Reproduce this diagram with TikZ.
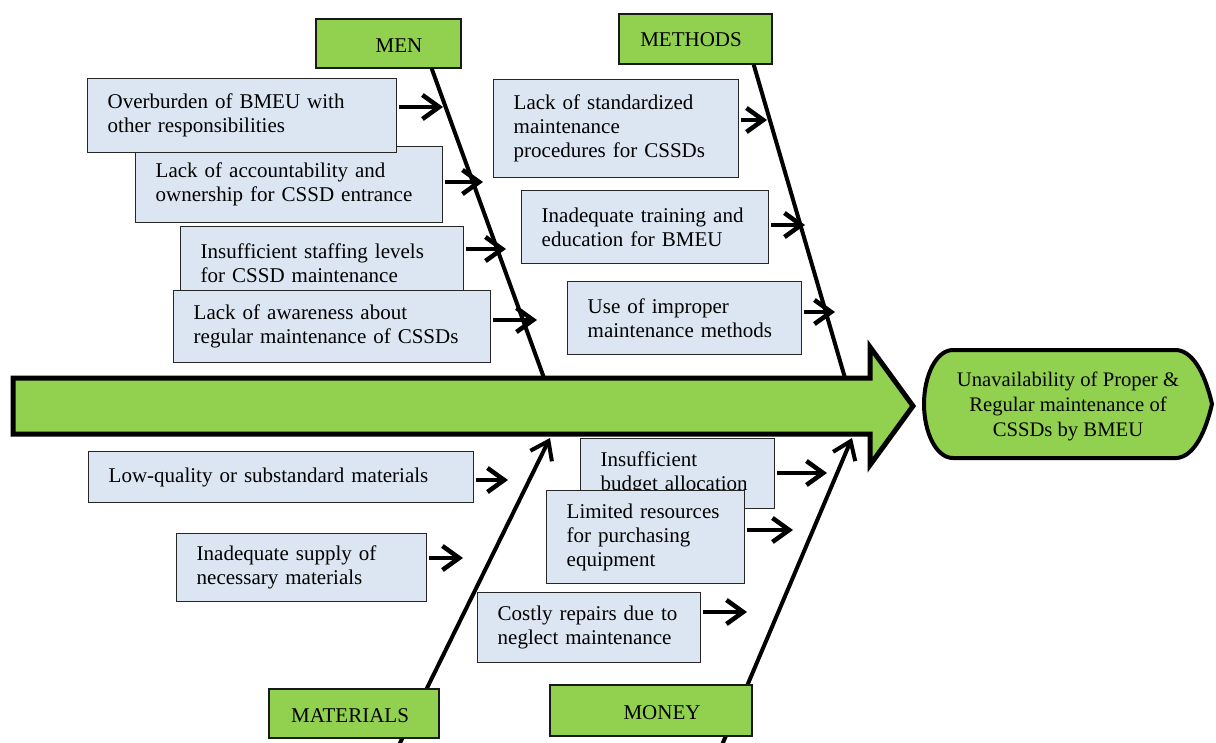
\documentclass[tikz,border=0pt]{standalone}
\usepackage{fontspec}
\setmainfont{Liberation Serif}
\usetikzlibrary{arrows.meta,calc}
\definecolor{fishgreen}{HTML}{92D050}
\definecolor{boxblue}{HTML}{DCE6F2}
\begin{document}
\begin{tikzpicture}[x=0.75pt,y=-0.75pt,
  cause/.style={draw=black!85, line width=1.1pt, fill=boxblue, align=left, anchor=north west,
    inner xsep=15pt, inner ysep=0pt, font=\fontsize{15.75}{18}\selectfont},
  cat/.style={draw=black!90, line width=1.3pt, fill=fishgreen, anchor=north west, inner sep=0pt},
  cattext/.style={font=\fontsize{15.75}{18}\selectfont, inner sep=0pt},
  bone/.style={line width=3pt, line cap=butt},
  tipbarb/.style={-{Straight Barb[length=12.5pt,width=18pt]}},
  arr/.style={line width=3.4pt, tipbarb},
]
\useasboundingbox (0,0) rectangle (1216,742);

% bone end coordinates
\coordinate (menJ) at (544,378);
\coordinate (methJ) at (845,378);
\coordinate (matB) at (399,745);
\coordinate (matJ) at (550,438);
\coordinate (monB) at (722,745);
\coordinate (monJ) at (852,438);

% category boxes
\node[cat, minimum width=108.75pt, minimum height=36.75pt] (men) at (315,18) {};
\node[cat, minimum width=114.75pt, minimum height=37.5pt] (methods) at (618,13) {};

% bones
\draw[bone] ($(men.south east)+(-30,0)$) -- (menJ);
\draw[bone] ($(methods.south east)+(-19,0)$) -- (methJ);
\draw[bone, tipbarb] (matB) -- (matJ);
\draw[bone, tipbarb] (monB) -- (monJ);

\node[cat, minimum width=127.5pt, minimum height=36.75pt] (materials) at (268,688) {};
\node[cat, minimum width=151.5pt, minimum height=38.25pt] (money) at (549,684) {};

\node[cattext] (menT) at (399,46) {MEN};
\node[cattext] (methodsT) at (691,40) {METHODS};
\node[cattext] (materialsT) at (350,716) {MATERIALS};
\node[cattext] (moneyT) at (662,713) {MONEY};

% spine
\draw[line width=3.75pt, fill=fishgreen, line join=miter]
  (13,378) -- (870,378) -- (870,347) -- (913,406) -- (870,465) -- (870,434) -- (13,434) -- cycle;

% effect
\draw[line width=3pt, fill=fishgreen]
  (953,350) -- (1177,350) .. controls (1195,352) and (1206,378) .. (1212,404)
  .. controls (1206,430) and (1195,456) .. (1177,458) -- (953,458)
  .. controls (936,458) and (924,432) .. (924,404)
  .. controls (924,376) and (936,350) .. (953,350) -- cycle;
\node[font=\fontsize{15.5}{18.75}\selectfont, align=center, inner sep=0pt] (effect) at (1068,406)
  {Unavailability of Proper \&\\Regular maintenance of\\CSSDs by BMEU};

% MEN causes
\node[cause, text width=200.25pt, minimum height=57pt] (c2) at (135,146)
  {Lack of accountability and\\ownership for CSSD entrance};
\node[cause, text width=201.75pt, minimum height=55.5pt] (c1) at (87,78)
  {Overburden of BMEU with\\other responsibilities};
\node[cause, text width=182.25pt, minimum height=54.75pt] (c3) at (180,226)
  {Insufficient staffing levels\\for CSSD maintenance};
\node[cause, text width=207.75pt, minimum height=54pt] (c4) at (173,290)
  {Lack of awareness about\\regular maintenance of CSSDs};

% METHODS causes
\node[cause, text width=153.75pt, minimum height=73.5pt] (c5) at (493,79)
  {Lack of standardized\\maintenance\\procedures for CSSDs};
\node[cause, text width=155.25pt, minimum height=54.75pt] (c6) at (521,190)
  {Inadequate training and\\education for BMEU};
\node[cause, text width=145.5pt, minimum height=54.75pt] (c7) at (567,281)
  {Use of improper\\maintenance methods};

% MATERIALS causes
\node[cause, text width=258.75pt, minimum height=38.25pt] (c8) at (88,451)
  {Low-quality or substandard materials};
\node[cause, text width=157.5pt, minimum height=51pt] (c9) at (176,533)
  {Inadequate supply of\\necessary materials};

% MONEY causes
\node[cause, text width=115.5pt, minimum height=52.5pt] (c10) at (580,438)
  {Insufficient\\budget allocation};
\node[cause, text width=118.5pt, minimum height=69.75pt] (c11) at (546,490)
  {Limited resources\\for purchasing\\equipment};
\node[cause, text width=137.25pt, minimum height=52.5pt] (c12) at (477,592)
  {Costly repairs due to\\neglect maintenance};

% cause arrows
\coordinate (a1) at (443,107);
\coordinate (a2) at (483,182);
\coordinate (a3) at (506,249);
\coordinate (a4) at (537,320);
\coordinate (a5) at (767,120);
\coordinate (a6) at (805,225);
\coordinate (a7) at (835,312);
\coordinate (a8) at (508,480);
\coordinate (a9) at (463,558);
\coordinate (a10) at (827,473);
\coordinate (a11) at (793,530);
\coordinate (a12) at (747,612);
\foreach \i in {1,...,12}{
  \draw[arr, shorten <=1.5pt] (c\i.east |- a\i) -- (a\i);
}
\end{tikzpicture}
\end{document}
